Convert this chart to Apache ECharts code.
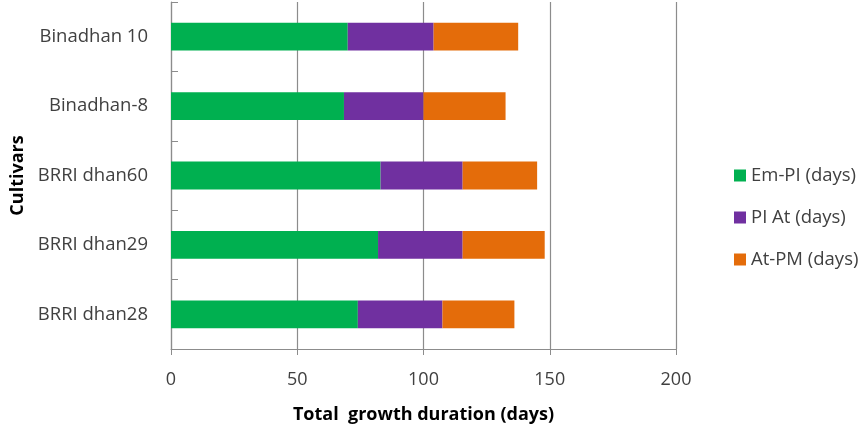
<!DOCTYPE html>
<html>
<head>
<meta charset="utf-8">
<script src="https://cdn.jsdelivr.net/npm/echarts@6/dist/echarts.min.js"></script>
<style>
  html, body { margin: 0; padding: 0; background: #fff; }
  #main { width: 861px; height: 429px; }
</style>
</head>
<body>
<div id="main"></div>
<script>
// cultivars, bottom to top
var cultivars = ['BRRI dhan28', 'BRRI dhan29', 'BRRI dhan60', 'Binadhan-8', 'Binadhan 10'];
var seriesNames = ['Em-PI (days)', 'PI At (days)', 'At-PM (days)'];
var emPi = [74, 82, 83, 68.5, 70];
var piAt = [33.5, 33.5, 32.5, 31.5, 34];
var atPm = [28.5, 32.5, 29.5, 32.5, 33.5];
var xTicks = [0, 50, 100, 150, 200];

var colors = ['#00B050', '#7030A0', '#E46C0A'];
var font = '"Open Sans", Lato, sans-serif';
var textColor = '#404040';

var chart = echarts.init(document.getElementById('main'));

function bar(name, data, color) {
  return {
    name: name,
    type: 'bar',
    stack: 'total',
    barWidth: '40%',
    data: data,
    itemStyle: { color: color }
  };
}

var option = {
  animation: false,
  color: colors,
  grid: {
    left: 171,
    right: 185,
    top: 2,
    bottom: 76
  },
  legend: {
    orient: 'vertical',
    left: 729,
    top: 161,
    icon: 'rect',
    itemWidth: 12,
    itemHeight: 12,
    itemGap: 23,
    textStyle: {
      fontFamily: font,
      fontSize: 18.5,
      lineHeight: 18,
      color: textColor
    },
    data: seriesNames
  },
  xAxis: {
    type: 'value',
    min: xTicks[0],
    max: xTicks[xTicks.length - 1],
    interval: 50,
    name: 'Total  growth duration (days)',
    nameLocation: 'middle',
    nameGap: 57,
    nameTextStyle: {
      fontFamily: font,
      fontSize: 18,
      fontWeight: 'bold',
      color: '#000'
    },
    axisLine: { show: true, lineStyle: { color: '#8c8c8c', width: 1 } },
    axisTick: { show: true, length: 6, lineStyle: { color: '#8c8c8c' } },
    axisLabel: {
      margin: 22,
      fontFamily: font,
      fontSize: 18,
      color: textColor
    },
    splitLine: { show: true, lineStyle: { color: '#8c8c8c', width: 1.2 } }
  },
  yAxis: {
    type: 'category',
    data: cultivars,
    name: 'Cultivars',
    nameLocation: 'middle',
    nameGap: 143,
    nameRotate: 90,
    nameTextStyle: {
      fontFamily: font,
      fontSize: 18,
      fontWeight: 'bold',
      color: '#000'
    },
    axisLine: { show: true, lineStyle: { color: '#8c8c8c', width: 1.2 } },
    axisTick: { show: true, inside: true, length: 7, lineStyle: { color: '#8c8c8c' } },
    axisLabel: {
      margin: 23,
      fontFamily: font,
      fontSize: 18.5,
      color: textColor
    }
  },
  series: [
    bar(seriesNames[0], emPi, colors[0]),
    bar(seriesNames[1], piAt, colors[1]),
    bar(seriesNames[2], atPm, colors[2])
  ]
};

chart.setOption(option);
</script>
</body>
</html>
